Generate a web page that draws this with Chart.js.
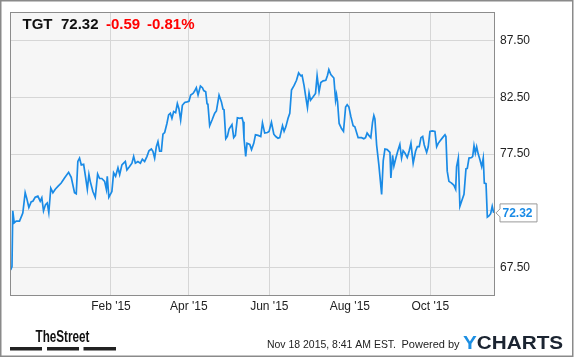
<!DOCTYPE html>
<html>
<head>
<meta charset="utf-8">
<script src="https://cdn.jsdelivr.net/npm/chart.js@4.4.0/dist/chart.umd.min.js"></script>
<style>
  html, body { margin: 0; padding: 0; background: #fff; }
  #wrap { width: 575px; height: 358px; }
</style>
</head>
<body>
<div id="wrap"><canvas id="chart" width="575" height="358"></canvas></div>
<script>
// quote header
const ticker = "TGT";
const lastPrice = 72.32;
const change = -0.59;
const changePct = -0.81;
const stamp = "Nov 18 2015, 8:41 AM EST.";

// x = days since Nov 17 2014, y = close price
const days = [
  0, 1, 1.6, 2.7, 4.2, 6.7, 8.5, 9.2, 11.0, 12.2, 13.8, 15.6, 16.8, 18.6, 20.6, 22.4, 23.6, 24.9,
  26.4, 27.7, 28.9, 30.4, 32.0, 33.8, 35.8, 38.3, 40.8, 43.9, 45.9, 48.4, 49.7, 50.9, 52.2, 53.5,
  55.3, 56.8, 58.1, 59.3, 60.3, 62.3, 64.1, 65.9, 67.4, 69.1, 71.2, 72.5, 73.2, 74.4,
  76.7, 78.0, 79.5, 81.3, 82.6, 84.3, 85.6, 86.9, 88.1, 90.1, 91.9, 93.2, 94.5, 96.4, 98.3, 99.8,
  101.5, 103.3, 104.8, 106.6, 107.8, 109.1, 110.4, 111.6, 112.9, 114.2, 115.4, 116.7, 118.4, 119.7,
  121.0, 122.2, 123.5, 125.0, 126.3, 127.5, 128.8, 130.1, 131.9, 133.6, 135.1, 136.4, 138.2, 139.4,
  140.7, 142.0, 143.8, 145.3,
  146.3, 147.8, 148.8, 149.5, 150.8, 152.6, 154.6, 155.9, 157.9, 159.7, 160.9, 161.7, 163.0, 164.2,
  165.5, 167.7, 169.0, 170.3, 171.8, 173.6, 175.3, 176.1, 176.8, 178.1, 179.1, 181.2, 182.5, 184.2,
  185.5, 187.5, 189.5, 190.8, 192.5, 194.6, 195.8, 197.6, 199.4, 200.9, 202.6, 203.9, 205.2, 206.0,
  207.2, 208.5, 210.2, 211.5, 212.8, 214.8, 216.6, 218.2,
  219.8, 220.8, 222.3, 223.6, 224.9, 226.1, 227.2, 229.2, 231.0, 232.2, 233.7, 235.0, 236.8, 238.8,
  240.1, 241.1, 242.6, 244.9, 246.2, 246.9, 247.7, 248.9, 250.7, 252.2, 253.8, 255.0, 256.3, 257.8,
  259.5, 260.8, 263.3, 265.9, 267.6, 268.9, 270.1, 271.4, 272.9, 274.2, 275.2, 276.0, 277.3, 279.0,
  281.1, 282.3, 283.6, 285.3, 287.4, 288.1, 289.4, 290.4,
  291.9, 293.4, 294.9, 296.2, 297.4, 298.7, 300.5, 302.0, 303.3, 305.0, 306.8, 308.1, 309.6, 310.9,
  312.2, 313.4, 315.2, 316.4, 317.7, 319.4, 321.5, 322.8, 324.0, 325.3, 327.3, 329.1, 329.8, 330.8,
  332.1, 334.1, 335.9, 337.2, 337.9, 339.2, 340.4, 341.7, 343.5, 345.0, 346.0, 347.3, 349.3, 350.1,
  351.1, 352.1, 353.1, 354.3, 355.6, 356.9, 358.1, 358.9, 360.2, 361.2, 362.4, 363.7, 364.9, 366.0
];
const prices = [
  67.3, 67.6, 72.5, 71.45, 71.6, 71.6, 72.1, 72.3, 74.1, 73.6, 72.8, 73.3, 73.35, 73.7, 73.8, 73.35, 73.65, 72.5,
  73.05, 73.2, 72.35, 74.5, 74.1, 74.4, 74.65, 74.95, 75.4, 75.9, 75.45, 74.1, 74.0, 76.85, 77.15, 76.55,
  76.6, 75.45, 74.4, 75.7, 75.1, 74.2, 73.7, 75.75, 75.35, 75.35, 75.1, 74.4, 75.55, 73.7,
  74.2, 75.85, 75.55, 76.3, 75.7, 76.55, 76.7, 76.85, 76.1, 76.4, 76.7, 77.3, 76.7, 76.85, 76.7, 77.05,
  76.85, 77.3, 77.8, 77.95, 77.75, 77.15, 78.15, 78.6, 77.75, 77.75, 79.25, 79.4, 80.2, 80.95,
  81.1, 80.65, 81.25, 81.15, 81.95, 81.5, 80.5, 81.8, 82.05, 82.1, 82.15, 82.7, 82.85, 83.05,
  83.35, 82.7, 83.5, 83.35,
  83.1, 83.0, 81.95, 81.85, 80.0, 80.5, 81.1, 81.3, 82.7, 82.1, 81.45, 81.4, 78.85, 79.05,
  79.7, 80.1, 78.95, 79.15, 80.7, 80.65, 80.7, 80.35, 78.9, 77.3, 78.45, 78.35, 77.9, 78.45,
  79.2, 79.15, 79.05, 80.25, 79.35, 79.4, 79.5, 80.3, 79.25, 79.05, 78.9, 78.95, 79.6, 80.0,
  79.5, 79.9, 80.65, 81.1, 83.15, 83.55, 84.0, 84.65,
  84.4, 84.45, 83.55, 82.55, 81.6, 82.9, 82.25, 82.55, 82.85, 84.4, 83.0, 83.8, 83.95, 84.0,
  84.45, 84.95, 84.5, 84.2, 82.25, 82.75, 82.1, 80.2, 79.75, 79.5, 81.65, 81.85, 81.65, 80.8,
  80.0, 79.9, 78.95, 78.95, 78.85, 78.95, 79.35, 79.15, 78.95, 80.3, 80.9, 80.6, 78.3, 76.55,
  73.95, 76.9, 77.95, 77.9, 77.65, 75.4, 77.4, 76.45,
  77.15, 77.8, 78.35, 77.15, 77.8, 77.6, 77.2, 77.8, 78.45, 76.7, 77.75, 78.15, 78.15, 78.95,
  79.05, 78.3, 77.65, 78.15, 79.5, 79.55, 79.5, 78.15, 78.45, 78.65, 78.95, 79.2, 79.05, 76.0,
  75.1, 74.95, 74.75, 74.4, 76.4, 77.15, 72.9, 73.35, 73.95, 76.2, 76.25, 77.15, 77.2, 77.3,
  78.25, 77.6, 78.15, 77.5, 77.0, 76.4, 77.15, 74.95, 74.9, 71.95, 72.05, 72.25, 72.9, 72.32
];

// axis ticks
const monthTicks = [76, 135, 196, 257, 318];
const monthLabels = ["Feb '15", "Apr '15", "Jun '15", "Aug '15", "Oct '15"];
const priceTicks = [67.5, 72.5, 77.5, 82.5, 87.5];

const FONT = "'Liberation Sans', Arial, sans-serif";
const LINE_BLUE = "#1a8be6";

// draw text squeezed to a given width
function fitText(ctx, text, x, y, width) {
  const w = ctx.measureText(text).width;
  ctx.save();
  ctx.translate(x, y);
  ctx.scale(Math.min(1, width / w), 1);
  ctx.fillText(text, 0, 0);
  ctx.restore();
}

const frame = {
  id: "frame",
  beforeDraw(chart) {
    const { ctx, chartArea: a } = chart;
    ctx.save();
    ctx.fillStyle = "#fff";
    ctx.fillRect(0, 0, chart.width, chart.height);
    ctx.fillStyle = "#f6f6f6";
    ctx.fillRect(a.left, a.top, a.right - a.left, a.bottom - a.top);
    ctx.restore();
  },
  afterDraw(chart) {
    const { ctx, chartArea: a } = chart;
    ctx.save();

    // plot border
    ctx.strokeStyle = "#8c8c8c";
    ctx.lineWidth = 1;
    ctx.strokeRect(Math.round(a.left) + 0.5, Math.round(a.top) + 0.5,
      Math.round(a.right - a.left) - 1, Math.round(a.bottom - a.top) - 1);

    // header quote
    ctx.font = "bold 15px " + FONT;
    ctx.textBaseline = "alphabetic";
    ctx.fillStyle = "#111";
    ctx.fillText(ticker, 22.5, 29);
    ctx.fillText(lastPrice.toFixed(2), 61, 29);
    ctx.fillStyle = "#f00";
    ctx.fillText(change.toFixed(2), 106, 29);
    ctx.fillText(changePct.toFixed(2) + "%", 147, 29);

    // last value flag
    const y = chart.scales.y.getPixelForValue(lastPrice);
    const x = a.right;
    ctx.beginPath();
    ctx.moveTo(x + 5, y - 9);
    ctx.lineTo(x + 42, y - 9);
    ctx.lineTo(x + 42, y + 9);
    ctx.lineTo(x + 5, y + 9);
    ctx.lineTo(x + 5, y + 4);
    ctx.lineTo(x + 1, y);
    ctx.lineTo(x + 5, y - 4);
    ctx.closePath();
    ctx.fillStyle = "#fff";
    ctx.fill();
    ctx.strokeStyle = "#999";
    ctx.stroke();
    ctx.fillStyle = LINE_BLUE;
    ctx.font = "bold 12px " + FONT;
    ctx.textBaseline = "middle";
    ctx.fillText(lastPrice.toFixed(2), x + 7.5, y + 0.5);

    // footer: TheStreet
    ctx.textBaseline = "alphabetic";
    ctx.fillStyle = "#111";
    ctx.font = "bold 16px " + FONT;
    fitText(ctx, "TheStreet", 35.5, 342, 54);
    ctx.fillStyle = "#222";
    ctx.fillRect(10, 347, 32, 3.5);
    ctx.fillRect(47, 347, 32, 3.5);
    ctx.fillRect(83.5, 347, 32.5, 3.5);

    // footer: stamp + YCHARTS
    ctx.font = "11px " + FONT;
    ctx.fillStyle = "#222";
    fitText(ctx, stamp, 267, 348, 129);
    ctx.fillText("Powered by", 401.5, 348);
    ctx.save();
    ctx.translate(463, 348.5);
    ctx.scale(1.09, 1);
    ctx.font = "bold 19px " + FONT;
    ctx.fillStyle = "#1c8fe3";
    ctx.fillText("Y", 0, 0);
    const yw = ctx.measureText("Y").width;
    ctx.fillStyle = "#1b2431";
    ctx.fillText("CHARTS", yw, 0);
    ctx.restore();

    // outer frame
    ctx.strokeStyle = "#8a8a8a";
    ctx.lineWidth = 1.5;
    ctx.strokeRect(0.75, 0.75, 572, 355.5);
    ctx.restore();
  }
};

new Chart(document.getElementById("chart").getContext("2d"), {
  type: "line",
  data: {
    datasets: [{
      data: days.map((d, i) => ({ x: d, y: prices[i] })),
      borderColor: LINE_BLUE,
      borderWidth: 1.7,
      pointRadius: 0,
      fill: false,
      tension: 0
    }]
  },
  options: {
    responsive: false,
    animation: false,
    devicePixelRatio: 1,
    layout: { padding: { left: 10, top: 10, right: 0, bottom: 0 } },
    plugins: { legend: { display: false }, tooltip: { enabled: false } },
    scales: {
      x: {
        type: "linear",
        min: -0.5,
        max: 367,
        afterBuildTicks: s => { s.ticks = monthTicks.map(v => ({ value: v })); },
        afterFit: s => { s.height = 62; },
        ticks: {
          autoSkip: false,
          maxRotation: 0,
          padding: 3,
          color: "#222",
          font: { family: FONT, size: 12 },
          callback: v => monthLabels[monthTicks.indexOf(v)]
        },
        grid: { color: "#d6d6d6", drawTicks: false },
        border: { display: false }
      },
      y: {
        position: "right",
        min: 65,
        max: 90,
        afterBuildTicks: s => { s.ticks = priceTicks.map(v => ({ value: v })); },
        afterFit: s => { s.width = 80; },
        ticks: {
          padding: 5,
          color: "#222",
          font: { family: FONT, size: 12 },
          callback: v => Number(v).toFixed(2)
        },
        grid: { color: "#d6d6d6", drawTicks: false },
        border: { display: false }
      }
    }
  },
  plugins: [frame]
});
</script>
</body>
</html>
